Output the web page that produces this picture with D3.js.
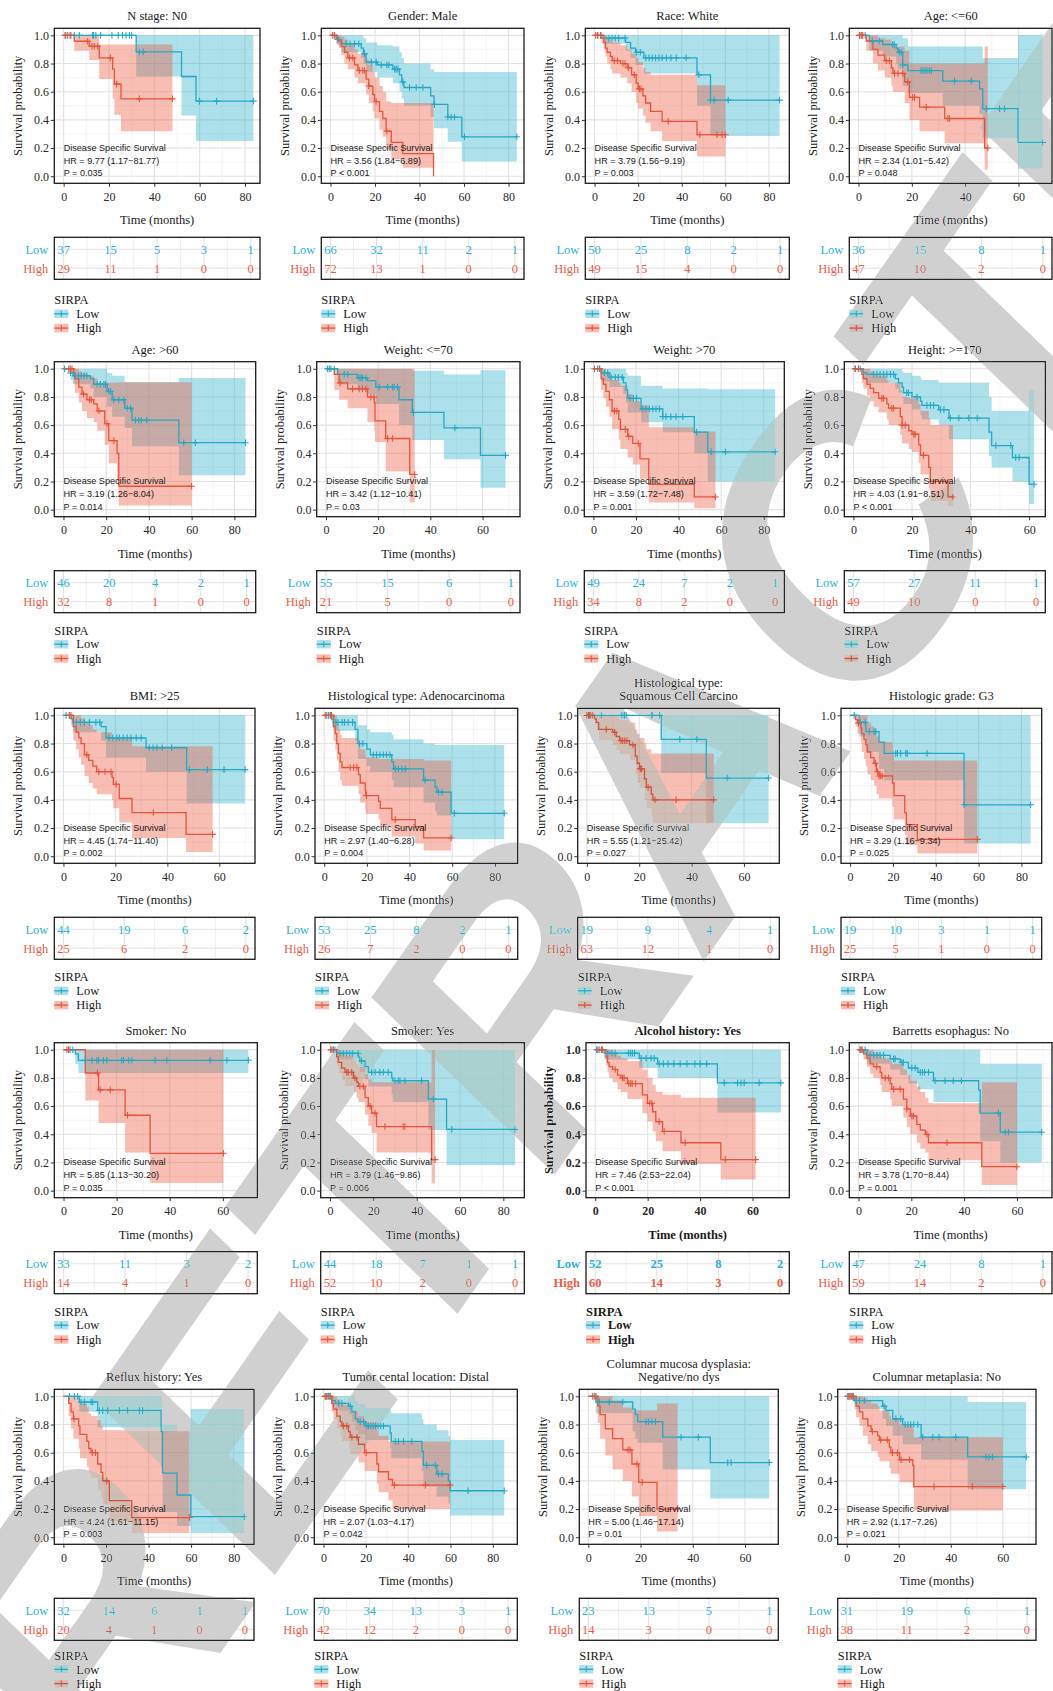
<!DOCTYPE html>
<html><head><meta charset="utf-8">
<script src="https://cdn.jsdelivr.net/npm/d3@7"></script>
<style>body{margin:0;background:#fff;}svg{display:block;}</style>
</head><body>
<svg id="chart" width="1053" height="1691"></svg>
<script>
// ---------------- DATA ----------------
const titles = ["N stage: N0","Gender: Male","Race: White","Age: <=60",
"Age: >60","Weight: <=70","Weight: >70","Height: >=170",
"BMI: >25","Histological type: Adenocarcinoma","Histological type:\nSquamous Cell Carcino","Histologic grade: G3",
"Smoker: No","Smoker: Yes","Alcohol history: Yes","Barretts esophagus: No",
"Reflux history: Yes","Tumor cental location: Distal","Columnar mucosa dysplasia:\nNegative/no dys","Columnar metaplasia: No"];
const hrLabels = ["HR = 9.77 (1.17\u221281.77)","HR = 3.56 (1.84\u22126.89)","HR = 3.79 (1.56\u22129.19)","HR = 2.34 (1.01\u22125.42)",
"HR = 3.19 (1.26\u22128.04)","HR = 3.42 (1.12\u221210.41)","HR = 3.59 (1.72\u22127.48)","HR = 4.03 (1.91\u22128.51)",
"HR = 4.45 (1.74\u221211.40)","HR = 2.97 (1.40\u22126.28)","HR = 5.55 (1.21\u221225.42)","HR = 3.29 (1.16\u22129.34)",
"HR = 5.85 (1.13\u221230.20)","HR = 3.79 (1.46\u22129.86)","HR = 7.46 (2.53\u221222.04)","HR = 3.78 (1.70\u22128.44)",
"HR = 4.24 (1.61\u221211.15)","HR = 2.07 (1.03\u22124.17)","HR = 5.00 (1.46\u221217.14)","HR = 2.92 (1.17\u22127.26)"];
const pLabels = ["P = 0.035","P < 0.001","P = 0.003","P = 0.048","P = 0.014","P = 0.03","P = 0.001","P < 0.001",
"P = 0.002","P = 0.004","P = 0.027","P = 0.025","P = 0.035","P = 0.006","P < 0.001","P = 0.001",
"P = 0.003","P = 0.042","P = 0.01","P = 0.021"];
const xMax = [82.5,82.8,85.1,69.1,85.7,70.8,85.4,62.4,70.2,86.4,70,85.2,69.5,85.4,70.5,69.8,85.3,87.2,69.3,69.3];
const breakMax = [80,80,80,60,80,60,80,60,60,80,60,80,60,80,60,60,80,80,60,60];
const riskLow = [[37,15,5,3,1],[66,32,11,2,1],[50,25,8,2,1],[36,15,8,1],
[46,20,4,2,1],[55,15,6,1],[49,24,7,2,1],[57,27,11,1],
[44,19,6,2],[53,25,8,2,1],[19,9,4,1],[19,10,3,1,1],
[33,11,3,2],[44,18,7,1,1],[52,25,8,2],[47,24,8,1],
[32,14,6,1,1],[70,34,13,3,1],[23,13,5,1],[31,19,6,1]];
const riskHigh = [[29,11,1,0,0],[72,13,1,0,0],[49,15,4,0,0],[47,10,2,0],
[32,8,1,0,0],[21,5,0,0],[34,8,2,0,0],[49,10,0,0],
[25,6,2,0],[26,7,2,0,0],[63,12,1,0],[25,5,1,0,0],
[14,4,1,0],[52,10,2,0,0],[60,14,3,0],[59,14,2,0],
[20,4,1,0,0],[42,12,2,0,0],[14,3,0,0],[38,11,2,0]];
// rows: [time, survival, lower CI, upper CI]
const lowCurves = [
[[0,1,1,1],[32,0.883,0.708,1],[52,0.708,0.432,1],[58.4,0.533,0.25,1]],
[[0,1,1,1],[3,0.97,0.93,1],[5,0.94,0.88,1],[13.8,0.91,0.84,1],[14.8,0.87,0.8,0.98],[16,0.81,0.74,0.95],[21,0.79,0.7,0.93],[28,0.76,0.66,0.92],[31,0.72,0.6,0.88],[32,0.67,0.55,0.84],[33,0.63,0.5,0.8],[45,0.57,0.42,0.76],[46.5,0.51,0.34,0.74],[52.7,0.42,0.245,0.74],[59,0.28,0.105,0.74]],
[[0,1,1,1],[4.3,0.98,0.94,1],[14.2,0.95,0.89,1],[16.5,0.91,0.84,1],[18.8,0.88,0.79,1],[22.6,0.84,0.73,1],[47,0.72,0.5,1],[53.2,0.54,0.285,1]],
[[0,1,1,1],[4.1,0.96,0.89,1],[9.1,0.935,0.85,1],[14.1,0.91,0.8,1],[14.8,0.88,0.76,1],[16.6,0.79,0.64,0.98],[18.5,0.75,0.59,0.92],[31.6,0.675,0.5,0.92],[45.4,0.62,0.44,0.92],[46.6,0.48,0.27,0.84],[59.8,0.24,0.054,1]],
[[0,1,1,1],[3.3,0.97,0.92,1],[4.4,0.95,0.89,1],[12.6,0.93,0.86,1],[14.2,0.89,0.8,1],[20.4,0.84,0.73,0.97],[22.8,0.78,0.66,0.95],[28.7,0.72,0.58,0.905],[32.1,0.635,0.45,0.905],[54,0.475,0.245,0.935]],
[[0,1,1,1],[4.5,0.96,0.89,1],[12.1,0.935,0.85,1],[15.9,0.915,0.82,1],[19.1,0.87,0.75,1],[28,0.78,0.6,1],[33.1,0.69,0.495,0.985],[45.2,0.58,0.357,0.96],[59.2,0.385,0.155,0.99]],
[[0,1,1,1],[3.6,0.97,0.91,1],[7.5,0.94,0.87,1],[14.1,0.9,0.82,1],[15.3,0.85,0.76,0.97],[16.1,0.79,0.69,0.95],[22.4,0.715,0.62,0.88],[32.6,0.66,0.55,0.86],[47.4,0.55,0.4,0.86],[53.7,0.41,0.2,0.855]],
[[0,1,1,1],[3.4,0.97,0.92,1],[4.6,0.96,0.9,1],[14.3,0.93,0.86,1],[15.4,0.9,0.83,1],[16.6,0.87,0.79,0.98],[17.1,0.83,0.75,0.97],[20,0.8,0.71,0.95],[22.9,0.77,0.67,0.93],[23.4,0.74,0.64,0.92],[29.1,0.71,0.6,0.9],[32.6,0.65,0.5,0.9],[46.3,0.55,0.38,0.8],[47.2,0.455,0.3,0.7],[54.3,0.37,0.2,0.7],[60,0.18,0.04,0.85]],
[[0,1,1,1],[2.9,0.975,0.93,1],[3.6,0.95,0.88,1],[14.5,0.92,0.82,1],[16.4,0.84,0.7,1],[31.8,0.77,0.6,1],[47.4,0.615,0.375,1]],
[[0,1,1,1],[3.6,0.97,0.92,1],[4.4,0.95,0.89,1],[14.5,0.9,0.82,1],[15.8,0.8,0.69,0.93],[20,0.76,0.64,0.9],[21.6,0.72,0.6,0.88],[31.7,0.67,0.54,0.86],[32.5,0.62,0.49,0.83],[46.6,0.54,0.38,0.8],[52,0.49,0.32,0.79],[52.8,0.455,0.29,0.79],[59.5,0.305,0.12,0.79]],
[[0,1,1,1],[28.4,0.83,0.59,1],[45.6,0.555,0.235,1]],
[[0,1,1,1],[4.2,0.95,0.85,1],[7.3,0.885,0.74,1],[13.5,0.81,0.62,1],[15.9,0.73,0.54,1],[53.2,0.365,0.09,1]],
[[0,1,1,1],[4.4,0.97,0.9,1],[5.6,0.925,0.835,1]],
[[0,1,1,1],[3.1,0.975,0.93,1],[13.1,0.95,0.88,1],[13.8,0.92,0.84,1],[16.2,0.88,0.79,1],[17.7,0.84,0.74,1],[28.5,0.8,0.68,1],[29,0.78,0.63,1],[45.4,0.65,0.43,1],[53.8,0.435,0.18,1]],
[[0,1,1,1],[3.4,0.976,0.93,1],[16.8,0.94,0.87,1],[23.8,0.9,0.8,1],[46.6,0.765,0.555,1]],
[[0,1,1,1],[3.2,0.96,0.9,1],[12,0.935,0.86,1],[15.8,0.91,0.82,1],[18.9,0.87,0.76,1],[22.5,0.84,0.72,1],[28.4,0.78,0.63,1],[45.5,0.715,0.55,1],[46.1,0.55,0.35,0.9],[53.7,0.415,0.2,0.9]],
[[0,1,1,1],[7.5,0.96,0.89,1],[16.1,0.9,0.78,1],[45.9,0.75,0.5,1],[46.6,0.455,0.18,0.8],[53.4,0.3,0.08,0.75],[59.9,0.146,0.03,0.91]],
[[0,1,1,1],[3.9,0.97,0.93,1],[5.5,0.95,0.9,1],[11.8,0.93,0.87,1],[13.4,0.89,0.82,1],[15,0.84,0.76,0.97],[16.2,0.82,0.73,0.95],[19.7,0.79,0.69,0.92],[31.5,0.74,0.63,0.9],[32,0.68,0.56,0.88],[46.5,0.61,0.47,0.84],[47.2,0.51,0.36,0.8],[53.5,0.45,0.29,0.76],[59,0.4,0.24,0.72],[59.8,0.33,0.155,0.69]],
[[0,1,1,1],[2.9,0.96,0.88,1],[17,0.91,0.75,1],[18,0.87,0.7,1],[18.9,0.82,0.67,1],[28.5,0.71,0.48,1],[46.7,0.53,0.275,1]],
[[0,1,1,1],[2.9,0.97,0.91,1],[13.8,0.93,0.84,1],[15.1,0.9,0.79,1],[17.7,0.84,0.72,1],[21.5,0.8,0.66,1],[28.6,0.71,0.55,1],[46.5,0.57,0.34,0.96]]
];
const highCurves = [
[[0,1,1,1],[4.7,0.958,0.89,1],[11.3,0.923,0.825,1],[15.7,0.84,0.69,0.935],[21.6,0.76,0.55,0.935],[22.4,0.654,0.437,0.935],[25.3,0.549,0.32,0.935]],
[[0,1,1,1],[2.5,0.98,0.94,1],[3.7,0.96,0.91,1],[4.8,0.92,0.86,0.99],[6.3,0.88,0.8,0.97],[7.8,0.84,0.76,0.94],[10.8,0.79,0.7,0.9],[12.3,0.75,0.66,0.87],[16,0.69,0.58,0.83],[17.2,0.64,0.52,0.79],[19,0.58,0.46,0.74],[19.8,0.53,0.41,0.7],[22,0.46,0.33,0.64],[23.5,0.41,0.28,0.6],[25,0.32,0.19,0.53],[27.3,0.24,0.12,0.52],[32.5,0.16,0.06,0.52],[46.3,0,0,0]],
[[0,1,1,1],[3.2,0.98,0.94,1],[4.3,0.95,0.9,1],[5,0.91,0.85,1],[5.8,0.88,0.8,0.98],[7.3,0.85,0.76,0.96],[8.1,0.82,0.73,0.95],[11.9,0.8,0.7,0.93],[15,0.77,0.66,0.9],[17,0.72,0.6,0.87],[19.1,0.66,0.52,0.84],[20,0.62,0.48,0.81],[22.2,0.57,0.43,0.77],[23.4,0.52,0.38,0.74],[25.7,0.46,0.32,0.72],[31,0.39,0.25,0.72],[47,0.295,0.14,0.645]],
[[0,1,1,1],[2.9,0.96,0.89,1],[5.4,0.9,0.8,1],[7.3,0.86,0.75,0.98],[9.8,0.82,0.7,0.97],[12.3,0.77,0.64,0.95],[12.9,0.73,0.6,0.92],[17.3,0.67,0.52,0.89],[19.1,0.56,0.4,0.8],[22.9,0.49,0.32,0.8],[32.3,0.41,0.235,0.8],[47.3,0.2,0.047,0.92]],
[[0,1,1,1],[4.8,0.97,0.9,1],[5.3,0.93,0.83,1],[7.2,0.87,0.76,0.98],[8.7,0.82,0.7,0.97],[11,0.78,0.65,0.95],[14.2,0.75,0.62,0.93],[15.8,0.7,0.56,0.9],[19.3,0.61,0.46,0.9],[21.2,0.49,0.33,0.9],[25.1,0.4,0.2,0.9],[25.9,0.166,0.03,0.905]],
[[0,1,1,1],[3.2,0.96,0.85,1],[5.1,0.9,0.78,1],[8.3,0.857,0.72,1],[15.9,0.8,0.62,1],[18.5,0.76,0.56,1],[18.8,0.63,0.48,1],[22.9,0.505,0.27,1],[32.1,0.25,0.05,1]],
[[0,1,1,1],[3.6,0.93,0.85,1],[4.7,0.89,0.79,1],[5.9,0.84,0.73,0.97],[7.5,0.78,0.66,0.95],[8.8,0.7,0.57,0.92],[11.9,0.64,0.5,0.9],[12.7,0.57,0.43,0.88],[16.1,0.52,0.37,0.82],[18.5,0.47,0.32,0.77],[21.9,0.36,0.22,0.74],[26,0.18,0.05,0.585],[47.4,0.09,0.01,0.555]],
[[0,1,1,1],[2.9,0.96,0.9,1],[3.4,0.93,0.86,1],[4.6,0.89,0.81,1],[5.7,0.86,0.77,0.98],[6.9,0.83,0.73,0.96],[8.6,0.79,0.69,0.95],[11.4,0.75,0.64,0.92],[12,0.72,0.6,0.9],[16,0.66,0.53,0.85],[16.6,0.6,0.47,0.8],[18.9,0.56,0.43,0.79],[20,0.535,0.41,0.79],[22.3,0.46,0.33,0.75],[22.9,0.385,0.25,0.7],[25.7,0.3,0.15,0.65],[26.3,0.2,0.06,0.6],[32.3,0.09,0.02,0.6]],
[[0,1,1,1],[3.8,0.92,0.82,1],[4.9,0.88,0.76,1],[5.9,0.84,0.7,1],[6.8,0.8,0.65,0.98],[8.1,0.72,0.57,0.95],[9.7,0.68,0.52,0.93],[11.3,0.64,0.48,0.9],[12.8,0.6,0.44,0.88],[18.7,0.56,0.4,0.84],[19.2,0.51,0.34,0.84],[21.5,0.41,0.24,0.84],[26.4,0.31,0.13,0.78],[47.2,0.155,0.03,0.78]],
[[0,1,1,1],[4.4,0.92,0.82,1],[5.2,0.87,0.76,1],[5.9,0.8,0.68,0.95],[6.7,0.73,0.6,0.9],[7.5,0.67,0.54,0.86],[8.3,0.63,0.5,0.84],[16.1,0.58,0.44,0.8],[16.9,0.52,0.38,0.76],[19.2,0.47,0.33,0.72],[19.5,0.43,0.3,0.7],[25.5,0.39,0.26,0.69],[26.3,0.34,0.21,0.69],[31.7,0.26,0.14,0.69],[42.7,0.21,0.09,0.69],[46.6,0.13,0.04,0.68]],
[[0,1,1,1],[2.9,0.975,0.93,1],[3.6,0.95,0.89,1],[4.5,0.9,0.82,1],[9.9,0.88,0.79,1],[11.2,0.85,0.75,1],[12.5,0.82,0.72,0.97],[16.3,0.79,0.68,0.95],[18.5,0.71,0.58,0.9],[19.2,0.66,0.52,0.87],[20.1,0.62,0.48,0.84],[22,0.55,0.4,0.8],[22.7,0.49,0.34,0.76],[24.6,0.44,0.28,0.73],[25.2,0.4,0.23,0.73]],
[[0,1,1,1],[2.6,0.97,0.92,1],[3.4,0.945,0.87,1],[5,0.91,0.81,1],[5.4,0.87,0.74,1],[6.5,0.83,0.69,1],[7.3,0.79,0.64,1],[8.1,0.74,0.58,0.95],[9.6,0.7,0.54,0.92],[11.2,0.66,0.5,0.9],[12.3,0.6,0.44,0.85],[13.5,0.57,0.41,0.81],[19.8,0.52,0.35,0.75],[20.5,0.43,0.26,0.68],[25.5,0.31,0.15,0.68],[26.3,0.225,0.08,0.68],[31.4,0.12,0.02,0.68]],
[[0,1,1,1],[8.2,0.835,0.64,1],[13.2,0.715,0.48,1],[23.2,0.535,0.27,1],[32.6,0.265,0.055,1]],
[[0,1,1,1],[3.1,0.95,0.88,1],[3.8,0.91,0.83,1],[5.4,0.87,0.78,0.98],[6.9,0.84,0.74,0.96],[10.8,0.8,0.7,0.93],[12.3,0.77,0.66,0.9],[13.1,0.74,0.63,0.88],[16.2,0.66,0.54,0.83],[17.7,0.6,0.46,0.79],[19.2,0.55,0.41,0.77],[21.5,0.455,0.27,0.77],[46.9,0.22,0.05,1]],
[[0,1,1,1],[4.1,0.95,0.89,1],[4.7,0.91,0.84,1],[5.3,0.88,0.8,1],[6.6,0.86,0.77,0.98],[8.5,0.82,0.72,0.96],[9.8,0.8,0.7,0.94],[12.3,0.76,0.65,0.92],[18,0.68,0.55,0.86],[19.9,0.62,0.49,0.8],[21.9,0.56,0.42,0.75],[23.1,0.49,0.35,0.7],[25.7,0.42,0.28,0.68],[32.7,0.34,0.19,0.66],[47.9,0.22,0.08,0.66]],
[[0,1,1,1],[1.9,0.97,0.93,1],[3.2,0.94,0.88,1],[4.4,0.9,0.83,1],[5.7,0.88,0.8,0.98],[8.2,0.84,0.75,0.96],[8.8,0.8,0.7,0.94],[12,0.76,0.65,0.92],[12.6,0.72,0.6,0.9],[17,0.65,0.52,0.86],[18.3,0.58,0.45,0.82],[19.6,0.53,0.4,0.78],[22.1,0.47,0.34,0.74],[23.4,0.43,0.3,0.7],[25.3,0.4,0.27,0.66],[26.5,0.34,0.215,0.62],[46.7,0.17,0.04,0.77]],
[[0,1,1,1],[2.5,0.95,0.86,1],[3.6,0.89,0.77,1],[4.7,0.84,0.7,1],[7.2,0.79,0.63,0.98],[7.8,0.73,0.56,0.95],[11,0.68,0.5,0.92],[11.9,0.63,0.45,0.88],[13,0.6,0.42,0.86],[16.1,0.52,0.33,0.83],[17.7,0.46,0.28,0.79],[18.5,0.4,0.23,0.76],[21.6,0.26,0.11,0.76],[32.1,0.14,0.03,0.755]],
[[0,1,1,1],[3.9,0.95,0.89,1],[4.7,0.91,0.84,1],[6.3,0.86,0.77,0.98],[7.9,0.82,0.72,0.96],[8.7,0.79,0.68,0.94],[11.8,0.75,0.63,0.92],[12.6,0.71,0.59,0.9],[16.5,0.66,0.53,0.86],[19.4,0.6,0.47,0.82],[25.2,0.52,0.38,0.76],[26,0.465,0.32,0.72],[30.7,0.41,0.26,0.68],[32.6,0.37,0.2,0.68]],
[[0,1,1,1],[3.6,0.93,0.81,1],[4.5,0.87,0.7,1],[6.5,0.77,0.58,1],[9.3,0.7,0.48,0.97],[13.2,0.62,0.4,0.92],[16.7,0.52,0.29,0.9],[19.3,0.39,0.15,0.9],[26.3,0.2,0.04,0.95]],
[[0,1,1,1],[3.6,0.93,0.85,1],[4.9,0.89,0.79,1],[6.2,0.84,0.72,0.99],[8.1,0.79,0.66,0.97],[9.4,0.75,0.61,0.95],[11.9,0.72,0.57,0.93],[12.6,0.69,0.54,0.9],[16.4,0.64,0.49,0.86],[17,0.6,0.45,0.84],[20.3,0.55,0.39,0.8],[25.4,0.51,0.35,0.77],[25.8,0.36,0.19,0.71]]
];
const lowEnd = [83.7,83.7,84.9,69.1,85.2,68.8,85.4,61.7,69.9,84.4,69.4,84.3,69.6,85.4,70.8,69.4,85,85.4,69.3,69];
const highEnd = [48,46.3,60,48.5,60,34,57.3,34,57.4,59.5,48.5,59.4,60.2,48.5,61.2,60,59.2,59.8,34.2,60];
const lowCensors = [
[1,2.8,4.7,6.9,12.8,13.2,14.2,16.3,21.3,24.1,26,27.5,29,30,33.4,35.1,59.9,67.5,83.7],
[1.8,3.3,7,8.8,10.8,12.7,15.3,18.3,20.5,22.8,25.3,26.2,28.8,29.5,30.3,32.5,35.5,38.5,41.5,46.7,52.7,54.2,55.7,60.2,83.7],
[1.3,2.9,6.6,8,9.5,11,14,19.3,21,23.5,25,26.5,28,29.5,31,33,35,37.5,42,47.8,53.2,54.8,61.3,84.9],
[0.4,1.3,2.5,5.2,7.8,12.8,13.4,15.3,16,16.6,23.5,24.2,25,25.7,26.5,27.3,36,42.3,47.9,52.9,54.8,69.1],
[0.5,3.3,5.6,7,8.3,9.7,11,15.8,17.3,18.9,19.7,21.2,22,23.6,25.9,28.2,29.9,31.4,33.7,35.2,36.4,39,56.3,61.7,85.2],
[0.6,1.3,1.9,3.2,7,8.3,12.7,13.4,14,15.3,20.4,23.6,25.5,26.1,27.4,33.5,49.4,68.8],
[2,3,5.2,6.7,8.3,10.3,11.7,13.5,17.2,18.8,20.3,23.2,24.7,26.3,27.9,29.4,31,32.6,34.1,36.4,38.8,42,48.5,55.3,62,85.4],
[0.6,1.7,2.3,6.9,8,9.1,10.3,11.4,12.6,13.7,18.2,18.8,21.7,25.1,26.3,27.4,29.7,30.9,33.1,36,39.4,42.3,48.6,53.7,55.4,56.6,61.7],
[1,2.3,5,6.5,8,10,12.5,14,17.5,19,20.5,21.5,23,24.5,26,28,29.9,33,34.5,36,38,41.6,48.5,55.4,61.8,69.9],
[1.2,2,3.4,5.5,6.5,8.4,9.5,11.2,13.3,16.6,18.1,23,24.5,26.1,27.7,29.2,30.8,33.3,34.8,36.4,38,47.3,53.6,55.2,61,84.4],
[1,2.3,5.5,13.1,13.8,14.4,15,24.6,25.2,27.8,35.5,42,53.6,69.4],
[1.9,4.7,7,8.9,11.2,12,21.3,22.1,23.6,26,26.7,35.9,53.2,84.3],
[1.9,2.5,3.5,8.2,10.7,12.5,13.2,15,16.3,21.9,22.6,24.5,25.7,34.5,38.9,55.2,61.5,69.6],
[0.5,1.5,2.3,4.6,6.2,7.7,9.2,10.5,13,14.6,19.2,20.8,23,24.6,26.9,30,31.5,32.3,34.6,42.3,47.7,56.2,85.4],
[0.5,1.5,2.5,4.8,6.4,7.6,12.7,13.5,14.2,15,17.5,19.4,21.3,22.5,24.4,26,27.8,30,32.4,35,38,40,42.5,49.2,54.3,55.6,56.8,62.5,70.8],
[0.6,1.3,2.5,4.4,5.7,7,8.2,9.5,13.3,13.9,16.4,17,20.2,21.5,23.4,24.2,25,26.5,29,32.8,35.9,39,53,55.5,56.8,69.4],
[2.8,5.2,6.7,8.3,9.9,13,13.8,16.9,18.5,20.8,26.3,30.2,35.7,37.2,85],
[0.8,1.6,2.4,3.1,7.1,8.7,12.6,17.3,18.9,20.5,21.3,22.4,23.5,24.6,25.8,27,28.3,33.9,35.4,37.8,41.7,48.7,52.8,54.3,55.9,68.3,85.4],
[2.3,4.2,8,13.2,22.1,23.1,24.3,25.7,35.5,42.1,53.4,54.7,69.3],
[0.4,1.2,2.3,3.6,4.9,6.8,14.4,18.9,20.8,22.4,23.5,24.6,25.8,27.3,29.2,33.1,35.5,41.9,53.5,54.7,56,69]
];
const highCensors = [
[0.6,1.8,3.2,10.6,12.5,13.5,15,20.6,23.4,33.4,48],
[1,1.8,8.5,10,13,14.5,15.3,17.2,20.5,25.3],
[0.5,1.5,2.7,9,10.5,13,14,15.5,18.2,20.6,21.3,33.8,48.3,56.2,58.5,60],
[0.4,1,1.6,10.4,11.6,13.5,14.8,16.6,18.5,20.3,21,25.4,33.5,34.1,48.5],
[2.5,3.2,4,9.4,12.2,13,16.6,20.4,23.6,60],
[5.4,10.2,12.7,14,15.3,17.2,18.4,23.6,25.5,34],
[0.5,2.8,9.9,11,15,16.6,21.1,57.3],
[0.6,1.7,9.7,10.3,13.1,13.7,16.6,17.7,20.6,21.1,23.9,34],
[2.3,2.9,9,13.6,16,18.3,20.3,34.6,57.4],
[0.5,2.8,3.3,12.2,13.8,15.3,19.8,33.3,59.5],
[0,0.6,1.3,2,7.4,10.6,13,13.7,14.5,15.3,17.6,20.4,20.9,23.4,26,34.1,48.5],
[3.9,11.8,12.8,13.5,14.3,15,59.4],
[1.3,1.9,12.8,13.8,17.6,24.1,60.2],
[0.5,1.5,7.7,8.5,10,11.5,13.8,15.4,18.5,20.8,25.4,33.8,34.6,48.5],
[1,2.3,2.8,7.6,10.4,11,12.8,13.5,14.1,15.4,20.8,21.6,24.4,26.3,34.3,49.6,61.2],
[0.6,1.3,6.9,10.1,11.4,13.3,15.8,18.3,20.2,20.8,25.9,33.5,60],
[5,13.6,15.1,20.4,59.2],
[0.8,1.6,3.1,9.4,11,13.4,15.8,20.1,33.5,48.1,59.8],
[1.7,2.9,15.2,16,18.6,20.6,34.2],
[0.6,1.3,1.9,2.6,9.9,13.1,15.6,17.6,19.5,20.9,24.1,33.6,48.3,60]
];
const groupNames = ["Low","High"];
const legendTitle = "SIRPA";
const annotTitle = "Disease Specific Survival";
const yTicks = [0,0.2,0.4,0.6,0.8,1.0];

// ---------------- LAYOUT ----------------
const rowTop = [28.3, 361.7, 708.3, 1042.7, 1389.3];
const legendShift = [3, 0, 0, 0, -2.5];
const boxX = [
[54.3,260],[321.3,524],[585.3,789.3],[849.3,1052],
[54.3,255.7],[316.7,520],[584.3,784.3],[844.3,1045.3],
[54.3,255],[315,517.7],[577.7,779.3],[841,1041.7],
[54.3,257.3],[320.7,524.3],[586,789.3],[849.3,1052],
[54.3,254],[314.3,517.3],[579.3,778.3],[837.7,1036]];
const BOXH = 155;
const SERIF = "'Liberation Serif','Times New Roman',serif";
const SANS = "'Liberation Sans',Arial,sans-serif";
const lineCol = ["#24a8c4", "#e8533c"];
const fillCol = ["#2fb2cb", "#ee5942"];
const tableCol = ["#2cb2d0", "#ef5b47"];

const svg = d3.select('#chart');
svg.append('rect').attr('width',1053).attr('height',1691).attr('fill','#fff');
const defs = svg.append('defs');

function stepVal(rows, t){ let v = rows[0][1]; for (const r of rows){ if (r[0] <= t) v = r[1]; else break; } return v; }
function ribbonData(rows, end){
  const pos = rows.filter(r => r[1] > 0);
  const zero = rows.find(r => r[1] <= 0);
  const last = pos[pos.length-1];
  return pos.concat([[zero ? zero[0] : end, last[1], last[2], last[3]]]);
}
function lineData(rows, end){ const last = rows[rows.length-1]; return rows.concat([[end, last[1], last[2], last[3]]]); }

titles.forEach((title, i) => {
  const r = Math.floor(i/4);
  const [L, R] = boxX[i];
  const T = rowTop[r], B = T + BOXH;
  const fw = i === 14 ? 'bold' : 'normal';
  const bMax = breakMax[i];
  const x = d3.scaleLinear().domain([-0.05*xMax[i], 1.05*xMax[i]]).range([L, R]);
  const y = d3.scaleLinear().domain([-0.05, 1.05]).range([B, T]);
  const g = svg.append('g');
  const cx = (L+R)/2;

  const lines = title.split('\n');
  lines.forEach((ln, k) => {
    g.append('text').attr('x', cx).attr('y', T - 8 - (lines.length-1-k)*13.3)
      .attr('text-anchor','middle').style('font-family',SERIF).style('font-size','12.5px')
      .style('font-weight',fw).attr('fill','#1a1a1a').text(ln);
  });

  const majX = d3.range(0, bMax+0.01, 20);
  const minX = d3.range(10, 1.05*xMax[i], 20);
  const gg = g.append('g');
  [0.1,0.3,0.5,0.7,0.9].forEach(v => gg.append('line').attr('x1',L).attr('x2',R).attr('y1',y(v)).attr('y2',y(v)).attr('stroke','#eeeeee').attr('stroke-width',0.6));
  minX.forEach(v => gg.append('line').attr('x1',x(v)).attr('x2',x(v)).attr('y1',T).attr('y2',B).attr('stroke','#eeeeee').attr('stroke-width',0.6));
  yTicks.forEach(v => gg.append('line').attr('x1',L).attr('x2',R).attr('y1',y(v)).attr('y2',y(v)).attr('stroke','#e2e2e2').attr('stroke-width',1.1));
  majX.forEach(v => gg.append('line').attr('x1',x(v)).attr('x2',x(v)).attr('y1',T).attr('y2',B).attr('stroke','#e2e2e2').attr('stroke-width',1.1));

  const cid = 'clip' + i;
  defs.append('clipPath').attr('id', cid).append('rect').attr('x',L).attr('y',T).attr('width',R-L).attr('height',B-T);
  const pg = g.append('g').attr('clip-path', `url(#${cid})`);

  const curves = [lowCurves[i], highCurves[i]];
  const ends = [lowEnd[i], highEnd[i]];
  const cens = [lowCensors[i], highCensors[i]];
  const area = d3.area().curve(d3.curveStepAfter).x(d => x(d[0])).y0(d => y(d[2])).y1(d => y(d[3]));
  const line = d3.line().curve(d3.curveStepAfter).x(d => x(d[0])).y(d => y(d[1]));
  curves.forEach((rows, k) => {
    pg.append('path').attr('d', area(ribbonData(rows, ends[k]))).attr('fill', fillCol[k]).attr('fill-opacity', 0.4);
  });
  curves.forEach((rows, k) => {
    pg.append('path').attr('d', line(lineData(rows, ends[k]))).attr('fill','none').attr('stroke', lineCol[k]).attr('stroke-width',1.3);
  });
  curves.forEach((rows, k) => {
    const p = d3.path();
    cens[k].forEach(t => {
      const px = x(t), py = y(stepVal(rows, t));
      p.moveTo(px-3.3, py); p.lineTo(px+3.3, py);
      p.moveTo(px, py-3.3); p.lineTo(px, py+3.3);
    });
    pg.append('path').attr('d', p.toString()).attr('fill','none').attr('stroke', lineCol[k]).attr('stroke-width',1.1);
  });

  [annotTitle, hrLabels[i], pLabels[i]].forEach((s, k) => {
    g.append('text').attr('x', x(0)).attr('y', y([0.205,0.113,0.022][k]) + 3.2)
      .style('font-family',SANS).style('font-size','9.1px').attr('fill','#1a1a1a').text(s);
  });

  g.append('rect').attr('x',L).attr('y',T).attr('width',R-L).attr('height',B-T)
    .attr('fill','none').attr('stroke','#1a1a1a').attr('stroke-width',1.3);

  const ya = g.append('g').attr('transform',`translate(${L},0)`)
    .call(d3.axisLeft(y).tickValues(yTicks).tickFormat(d3.format('.1f')).tickSize(3.5).tickPadding(1.8));
  ya.select('.domain').remove();
  ya.selectAll('text').style('font-family',SERIF).style('font-size','12px').style('font-weight',fw).attr('fill','#2b2b2b');
  ya.selectAll('line').attr('stroke','#333');
  const xa = g.append('g').attr('transform',`translate(0,${B})`)
    .call(d3.axisBottom(x).tickValues(majX).tickFormat(d3.format('d')).tickSize(3.5).tickPadding(5.5));
  xa.select('.domain').remove();
  xa.selectAll('text').style('font-family',SERIF).style('font-size','12px').style('font-weight',fw).attr('fill','#2b2b2b');
  xa.selectAll('line').attr('stroke','#333');

  g.append('text').attr('x', cx).attr('y', B + 41).attr('text-anchor','middle')
    .style('font-family',SERIF).style('font-size','12.5px').style('font-weight',fw).attr('fill','#1a1a1a').text('Time (months)');
  g.append('text').attr('transform',`translate(${L-37},${(T+B)/2}) rotate(-90)`).attr('text-anchor','middle').attr('dy','0.35em')
    .style('font-family',SERIF).style('font-size','12.5px').style('font-weight',fw).attr('fill','#1a1a1a').text('Survival probability');

  const tT = T + 209, tB = T + 251;
  const tx = d3.scaleLinear().domain([-0.05*bMax, 1.05*bMax]).range([L, R]);
  const rowY = [T + 221, T + 240];
  const tg = g.append('g');
  d3.range(10, bMax, 20).forEach(v => tg.append('line').attr('x1',tx(v)).attr('x2',tx(v)).attr('y1',tT).attr('y2',tB).attr('stroke','#ececec').attr('stroke-width',0.8));
  majX.forEach(v => tg.append('line').attr('x1',tx(v)).attr('x2',tx(v)).attr('y1',tT).attr('y2',tB).attr('stroke','#e2e2e2').attr('stroke-width',1.1));
  rowY.forEach(v => tg.append('line').attr('x1',L).attr('x2',R).attr('y1',v).attr('y2',v).attr('stroke','#e2e2e2').attr('stroke-width',1.1));
  [riskLow[i], riskHigh[i]].forEach((vals, k) => {
    vals.forEach((n, j) => {
      tg.append('text').attr('x', tx(majX[j])).attr('y', rowY[k] + 4.3).attr('text-anchor','middle')
        .style('font-family',SERIF).style('font-size','12.5px').style('font-weight',fw).attr('fill', tableCol[k]).text(n);
    });
    tg.append('text').attr('x', L - 6).attr('y', rowY[k] + 4.3).attr('text-anchor','end')
      .style('font-family',SERIF).style('font-size','12.5px').style('font-weight',fw).attr('fill', tableCol[k]).text(groupNames[k]);
  });
  tg.append('rect').attr('x',L).attr('y',tT).attr('width',R-L).attr('height',tB-tT)
    .attr('fill','none').attr('stroke','#1a1a1a').attr('stroke-width',1.3);

  const ls = legendShift[r];
  g.append('text').attr('x', L).attr('y', T + 273 + ls).style('font-family',SERIF).style('font-size','12.5px')
    .style('font-weight',fw).attr('fill','#1a1a1a').text(legendTitle);
  groupNames.forEach((nm, k) => {
    const cy = T + 282.5 + ls + k*14.3;
    g.append('rect').attr('x', L).attr('y', cy-4.2).attr('width', 14).attr('height', 8.4).attr('fill', fillCol[k]).attr('fill-opacity',0.4);
    g.append('line').attr('x1', L).attr('x2', L+14).attr('y1', cy).attr('y2', cy).attr('stroke', lineCol[k]).attr('stroke-width',1.3);
    g.append('line').attr('x1', L+7).attr('x2', L+7).attr('y1', cy-3).attr('y2', cy+3).attr('stroke', lineCol[k]).attr('stroke-width',1.1);
    g.append('text').attr('x', L+22).attr('y', cy+4.2).style('font-family',SERIF).style('font-size','12.5px')
      .style('font-weight',fw).attr('fill','#1a1a1a').text(nm);
  });
});

// ---------------- WATERMARK ----------------
const wmLetters = ['R','E','T','R','A','C','T','E','D'];
const wmAdv = [722,667,611,722,722,722,611,667,722];
const wmF = 345, wmAng = 50.6, wmStretch = 1.175, wmRef = [840, 538], wmRefIdx = 5;
const centers = []; let acc = 0;
wmAdv.forEach(w => { centers.push(acc + w/2); acc += w; });
const wg = svg.append('g').style('mix-blend-mode','darken');
const ca = Math.cos(wmAng*Math.PI/180), sa = Math.sin(wmAng*Math.PI/180);
wmLetters.forEach((ch, k) => {
  const s = (centers[k] - centers[wmRefIdx]) * wmF / 1000;
  const px = wmRef[0] + s*ca, py = wmRef[1] - s*sa*wmStretch;
  wg.append('text').attr('transform', `translate(${px},${py}) scale(1,${wmStretch}) rotate(${-wmAng})`)
    .attr('text-anchor','middle').attr('y', 0.358*wmF)
    .style('font-family',SANS).style('font-weight','bold').style('font-size', wmF+'px')
    .attr('fill','#d0d0d0').text(ch);
});
</script>
</body></html>
